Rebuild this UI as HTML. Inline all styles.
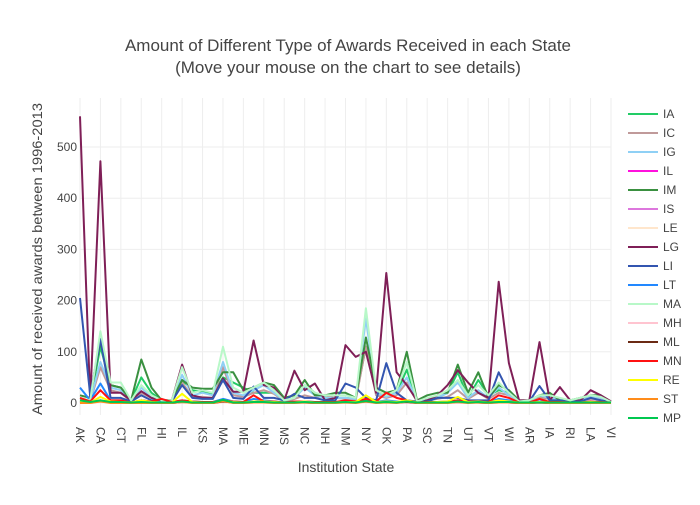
<!DOCTYPE html>
<html><head><meta charset="utf-8"><style>
body{margin:0;background:#fff;font-family:"Liberation Sans",sans-serif;}
svg text{font-family:"Liberation Sans",sans-serif;fill:#444;}
</style></head><body>
<svg id="chart" width="700" height="500" xmlns="http://www.w3.org/2000/svg">
<rect width="700" height="500" fill="#fff"/>
<text x="348" y="51" font-size="17" text-anchor="middle">Amount of Different Type of Awards Received in each State</text>
<text x="348" y="73" font-size="17" text-anchor="middle">(Move your mouse on the chart to see details)</text>
<g id="grid"></g>
<g id="lines"></g>
<g id="xticks"></g>
<g id="yticks"></g>
<text x="346" y="472" font-size="14" text-anchor="middle">Institution State</text>
<text transform="translate(42,259) rotate(-90)" font-size="14" text-anchor="middle" textLength="312" lengthAdjust="spacingAndGlyphs">Amount of received awards between 1996-2013</text>
<clipPath id="lgclip"><rect x="620" y="100" width="80" height="322"/></clipPath>
<g id="legend" clip-path="url(#lgclip)"></g>
</svg>
<script>
const categories=["AK","AL","CA","CO","CT","DC","FL","GA","HI","ID","IL","IN","KS","KY","MA","MD","ME","MI","MN","MO","MS","MT","NC","ND","NH","NJ","NM","NV","NY","OH","OK","OR","PA","PR","SC","SD","TN","TX","UT","VA","VT","WA","WI","WV","AR","DE","IA","NE","RI","WY","LA","AZ","VI"];
const yTicks=[0,100,200,300,400,500];
const seriesNames=["IA","IC","IG","IL","IM","IS","LE","LG","LI","LT","MA","MH","ML","MN","RE","ST","MP"];
const IA=[5,3,110,35,30,5,50,20,5,5,45,25,22,18,50,40,30,20,20,20,5,10,35,20,10,10,10,8,110,20,15,20,65,3,8,10,20,60,10,45,15,25,20,3,3,10,15,5,3,5,10,10,2];
const IC=[5,3,70,25,20,3,20,10,3,3,40,12,12,10,70,15,12,20,25,18,3,8,15,10,15,10,8,5,110,15,10,15,40,2,5,8,12,25,8,20,8,20,15,2,2,10,8,8,3,5,8,8,2];
const IG=[8,5,80,30,25,3,30,10,3,3,55,15,20,15,80,20,15,25,35,20,5,10,30,15,10,10,10,8,165,20,12,20,50,3,8,10,20,40,10,25,10,30,15,3,3,15,10,8,3,8,12,10,2];
const IL=[2,0,5,1,1,0,2,1,0,0,3,1,1,1,3,1,1,2,2,1,0,1,1,1,0,1,1,1,4,1,2,1,2,0,0,1,1,2,1,1,0,2,1,0,0,1,1,0,0,0,1,1,0];
const IM=[15,10,120,35,30,5,85,30,5,5,45,30,28,28,60,60,25,30,40,35,10,15,45,15,15,20,20,10,128,30,20,25,100,5,15,20,20,75,20,60,10,35,25,5,5,15,20,5,5,10,15,15,3];
const IS=[1,0,4,1,1,0,1,1,0,0,2,1,1,0,3,1,0,1,1,1,0,0,1,0,0,1,1,0,3,1,1,1,2,0,0,0,1,2,1,1,0,1,1,0,0,1,0,0,0,0,1,0,0];
const LE=[1,0,3,1,0,0,1,0,0,0,2,0,1,0,2,1,0,1,1,0,0,0,1,0,0,0,1,0,2,1,1,0,1,0,0,0,1,1,0,1,0,1,1,0,0,0,0,0,0,0,1,0,0];
const LG=[560,5,472,20,20,5,23,10,5,5,75,15,10,10,48,22,22,122,35,30,5,63,25,38,5,10,113,90,100,20,254,60,35,5,5,15,35,64,40,20,10,237,78,5,5,119,5,31,5,5,25,15,3];
const LI=[205,15,125,10,10,3,15,5,3,3,35,10,8,8,45,10,8,32,10,10,5,18,10,10,5,5,38,30,10,5,78,20,5,3,3,10,10,10,5,5,5,60,20,3,3,33,5,5,3,3,10,5,2];
const LT=[30,5,38,5,5,1,5,3,2,1,5,3,2,2,8,3,2,8,5,3,1,3,3,2,2,2,3,3,5,2,5,3,3,1,1,2,2,5,3,3,1,8,5,1,1,3,2,2,1,1,3,2,1];
const MA=[10,5,140,40,40,5,35,15,5,5,70,20,25,20,110,30,20,30,40,25,5,10,35,20,15,15,15,10,185,25,15,25,80,3,10,15,25,45,15,35,15,40,20,3,5,15,15,10,5,10,15,12,2];
const MH=[1,0,3,1,1,0,1,0,0,0,2,1,0,0,2,1,0,1,1,0,0,0,1,0,0,0,1,0,2,0,1,0,1,0,0,0,0,1,0,1,0,1,1,0,0,0,0,0,0,0,0,0,0];
const ML=[3,1,4,1,1,0,1,1,0,0,2,1,1,0,3,1,1,1,2,1,0,1,1,0,0,1,1,1,3,1,2,1,2,0,0,1,1,2,1,1,0,2,1,0,0,1,0,0,0,0,1,0,0];
const MN=[10,3,25,5,5,1,5,3,8,2,5,3,2,2,5,3,2,15,3,3,1,3,3,2,2,2,5,3,8,3,20,10,5,1,2,2,3,5,3,3,2,15,10,1,1,8,2,2,1,1,3,2,1];
const RE=[3,1,12,3,2,1,5,2,1,1,18,2,1,1,5,2,1,3,3,2,1,1,3,1,1,1,2,2,15,2,3,2,5,1,1,2,3,12,2,3,1,5,3,1,1,2,1,1,1,1,2,1,0];
const ST=[0,0,3,0,0,0,0,0,0,0,2,0,0,0,4,0,0,1,1,0,0,0,1,0,0,0,1,0,3,0,1,0,3,0,0,0,0,2,0,1,0,1,1,0,0,1,0,0,0,0,0,0,0];
const MP=[5,2,5,2,2,1,2,1,1,1,3,1,1,1,6,1,1,2,2,1,1,1,2,1,1,1,2,1,4,1,2,1,3,1,1,1,1,3,1,2,1,2,2,1,1,1,1,1,1,1,1,1,1];
const seriesValues=[IA,IC,IG,IL,IM,IS,LE,LG,LI,LT,MA,MH,ML,MN,RE,ST,MP];
const seriesColors=["#22cc66","#c09a9a","#8fd0f5","#ff11dd","#3a9040","#dd77dd","#ffe6cc","#7f1f57","#3355b0","#2288ff","#b8f8c8","#ffc4d0","#6b2a14","#ff1111","#ffff00","#ff8c1a","#00c850"];
const NS="http://www.w3.org/2000/svg";
const X0=80,X1=611,Y0=403,PX100=51.2;
function xs(i){return X0+(X1-X0)*i/(categories.length-1);}
function ys(v){return Y0-v*PX100/100;}
function mk(tag,attrs,parent){const e=document.createElementNS(NS,tag);for(const k in attrs)e.setAttribute(k,attrs[k]);parent.appendChild(e);return e;}
const grid=document.getElementById('grid');
categories.forEach((c,i)=>{if(i%2)return;
 const l=mk('line',{x1:xs(i),x2:xs(i),y1:98,y2:415,stroke:'#eee','stroke-width':1},grid);
 
 
 const t=mk('text',{transform:`translate(${xs(i)-4},427) rotate(90)`,'font-size':12},document.getElementById('xticks'));
 t.textContent=c;
 
 
});
yTicks.forEach(v=>{
 const l=mk('line',{x1:X0,x2:X1,y1:ys(v),y2:ys(v),stroke:'#eee','stroke-width':1},grid);
 
 
 const t=mk('text',{x:X0-3,y:ys(v)+4,'font-size':12,'text-anchor':'end'},document.getElementById('yticks'));
 t.textContent=v;
 
 
});
const lines=document.getElementById('lines'),leg=document.getElementById('legend');
seriesNames.forEach((n,s)=>{
 const vals=seriesValues[s];
 const pts=categories.map((c,i)=>xs(i).toFixed(1)+','+ys(vals[i]||0).toFixed(1)).join(' ');
 const p=mk('polyline',{points:pts,fill:'none',stroke:seriesColors[s],'stroke-width':2,'stroke-linejoin':'round'},lines);
 
 
 const y=114+19*s;
 const g=mk('g',{},leg);
 
 
 mk('line',{x1:628,x2:658,y1:y,y2:y,stroke:seriesColors[s],'stroke-width':2},g);
 const t=mk('text',{x:663,y:y+4,'font-size':12},g);
 t.textContent=n;
});
</script>
</body></html>
